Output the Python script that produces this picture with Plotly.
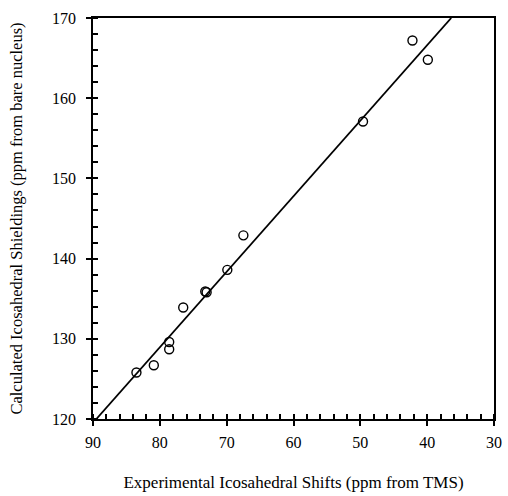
import plotly.graph_objects as go

# Experimental shifts (ppm from TMS) and calculated shieldings (ppm from bare nucleus)
exp_shift = [83.5, 80.9, 78.6, 78.6, 76.5, 73.2, 73.0, 69.9, 67.5, 49.6, 42.2, 39.9]
calc_shield = [125.8, 126.7, 129.6, 128.7, 133.9, 135.9, 135.8, 138.6, 142.9, 157.1, 167.2, 164.8]

# Fitted line endpoints
line_x = [89.5, 36.4]
line_y = [120.0, 170.0]

x_ticks = [90, 80, 70, 60, 50, 40, 30]
y_ticks = [120, 130, 140, 150, 160, 170]
x_range = [90, 30]
y_range = [120, 170]
minor_step = 2

font_family = "Liberation Serif"

fig = go.Figure()
fig.add_trace(go.Scatter(
    x=line_x, y=line_y, mode="lines",
    line=dict(color="black", width=1.8),
    showlegend=False,
))
fig.add_trace(go.Scatter(
    x=exp_shift, y=calc_shield, mode="markers",
    marker=dict(symbol="circle-open", size=9, color="black", line=dict(width=1.4)),
    showlegend=False,
))

axis_common = dict(
    showgrid=False, zeroline=False, automargin=False,
    showline=True, linecolor="black", linewidth=1.6, mirror=True,
    ticks="outside", ticklen=5, tickwidth=1.5, tickcolor="black",
    tickfont=dict(size=16, family=font_family),
    minor=dict(tickmode="linear", dtick=minor_step, ticks="inside",
               ticklen=5, tickwidth=1.5, tickcolor="black", showgrid=False),
)

fig.update_layout(
    width=508, height=496,
    margin=dict(l=93, r=14, t=18, b=77),
    paper_bgcolor="white", plot_bgcolor="white",
    font=dict(family=font_family, color="black", size=15),
    xaxis=dict(
        range=x_range, tickmode="array", tickvals=x_ticks,
        ticktext=[str(v) for v in x_ticks],
        ticklabelstandoff=3,
        title=dict(text="Experimental Icosahedral Shifts (ppm from TMS)",
                   font=dict(size=17, family=font_family), standoff=26),
        **axis_common,
    ),
    yaxis=dict(
        range=y_range, tickmode="array", tickvals=y_ticks,
        ticktext=[str(v) for v in y_ticks],
        ticklabelstandoff=7,
        title=dict(text="Calculated Icosahedral Shieldings (ppm from bare nucleus)",
                   font=dict(size=16.5, family=font_family), standoff=25),
        **axis_common,
    ),
)

fig.write_html("out.html")
